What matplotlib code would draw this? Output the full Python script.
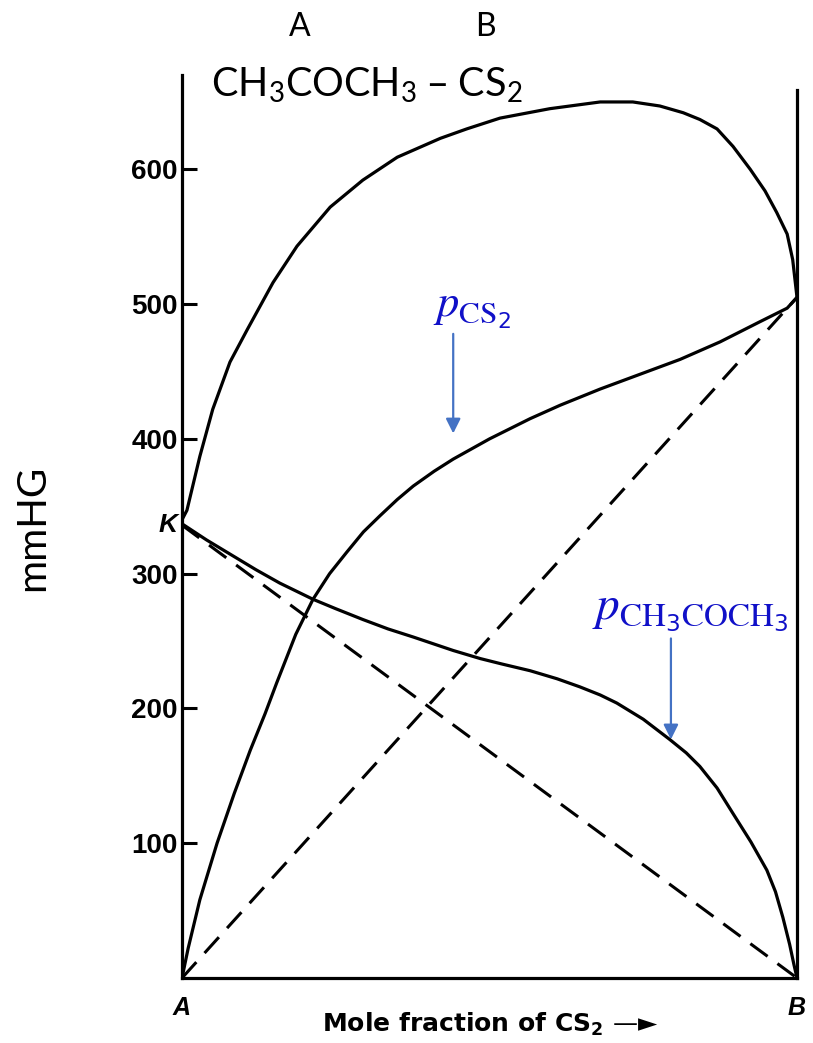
import numpy as np
import matplotlib.pyplot as plt

plt.rcParams['mathtext.default'] = 'regular'

# x = mole fraction of CS2, y = pressure (mmHg)
x_total = [0.0, 0.008, 0.029, 0.050, 0.078, 0.106, 0.148, 0.187, 0.241, 0.294, 0.350, 0.420,
           0.463, 0.517, 0.598, 0.680, 0.733, 0.777, 0.815, 0.842, 0.870, 0.896, 0.924, 0.948,
           0.967, 0.984, 0.993, 1.0]
p_total = [340, 347, 387, 422, 457, 481, 516, 543, 572, 592, 609, 623,
           630, 638, 645, 650, 650, 647, 642, 637, 630, 617, 600, 584,
           568, 552, 533, 505]

x_cs2 = [0.0, 0.010, 0.029, 0.057, 0.085, 0.111, 0.135, 0.154, 0.185, 0.213, 0.240, 0.268,
         0.295, 0.322, 0.350, 0.376, 0.410, 0.441, 0.500, 0.566, 0.615, 0.680, 0.745, 0.810,
         0.875, 0.940, 0.984, 1.0]
p_cs2 = [0, 22, 58, 100, 137, 169, 196, 219, 255, 281, 300, 316,
         331, 343, 355, 365, 376, 385, 400, 415, 425, 437, 448, 459,
         472, 487, 497, 505]

x_ac = [0.0, 0.04, 0.08, 0.12, 0.159, 0.213, 0.25, 0.294, 0.335, 0.376, 0.441, 0.485,
        0.52, 0.566, 0.61, 0.647, 0.68, 0.707, 0.75, 0.793, 0.82, 0.842, 0.87, 0.896,
        0.925, 0.951, 0.965, 0.977, 0.988, 0.995, 1.0]
p_ac = [337, 325, 314, 303, 293, 281, 274, 266, 259, 253, 243, 237,
        233, 228, 222, 216, 210, 204, 192, 177, 167, 157, 141, 122,
        101, 80, 64, 45, 25, 10, 0]

p_A = 336   # pure acetone, point K
p_B = 505   # pure CS2

yticks = [100, 200, 300, 400, 500, 600]

fig = plt.figure(figsize=(8.13, 10.43), dpi=100)
ax = fig.add_axes([182/813, 65/1043, 615/813, 903/1043])

ax.plot(x_total, p_total, color='black', lw=2.3)
ax.plot(x_cs2, p_cs2, color='black', lw=2.3)
ax.plot(x_ac, p_ac, color='black', lw=2.3)
ax.plot([0, 1], [0, p_B], color='black', lw=2.2, dashes=[7, 4])
ax.plot([0, 1], [p_A, 0], color='black', lw=2.2, dashes=[7, 4])
# right hand axis line
ax.plot([1, 1], [0, 659], color='black', lw=2.3, clip_on=False)

ax.set_xlim(0, 1)
ax.set_ylim(0, 670)
ax.spines['top'].set_visible(False)
ax.spines['right'].set_visible(False)
ax.spines['left'].set_linewidth(2.3)
ax.spines['bottom'].set_linewidth(2.3)

ax.set_yticks(yticks)
ax.set_yticklabels([str(v) for v in yticks], family='Liberation Sans', weight='bold', fontsize=20)
ax.tick_params(axis='y', direction='in', length=11, width=2.2, pad=3)
ax.set_xticks([0, 1])
ax.set_xticklabels(['A', 'B'], family='Liberation Sans', weight='bold', style='italic', fontsize=18)
ax.tick_params(axis='x', length=0, pad=13)
ax.text(-0.008, p_A, 'K', ha='right', va='center', family='Liberation Sans',
        weight='bold', style='italic', fontsize=19)

ax.set_xlabel('Mole fraction of CS$_2$ \u2014\u25ba', family='DejaVu Sans', weight='bold',
              fontsize=18)
ax.xaxis.set_label_coords(0.502, -0.036)
fig.text(33/813, 1 - 528/1043, 'mmHG', rotation=90, ha='center', va='center',
         family='Lato', fontsize=29)

# title
fig.text(300/813, 1 - 27/1043, 'A', ha='center', va='center', family='Lato', fontsize=23)
fig.text(485/813, 1 - 27/1043, 'B', ha='center', va='center', family='Lato', fontsize=23)
fig.text(367/813, 1 - 85/1043, 'CH$_3$COCH$_3$ \u2013 CS$_2$', ha='center', va='center',
         family='Lato', fontsize=28.5)

# blue labels with arrows
blue = '#1010c8'
ax.annotate('', xy=(0.441, 402), xytext=(0.441, 480),
            arrowprops=dict(arrowstyle='-|>', color='#4472c4', lw=1.6, mutation_scale=22))
ax.text(0.4715, 496, r'$\mathit{p}_{\mathrm{CS}_2}$', color=blue, ha='center', va='center',
        fontsize=32, math_fontfamily='stix')
ax.annotate('', xy=(0.795, 175), xytext=(0.795, 254),
            arrowprops=dict(arrowstyle='-|>', color='#4472c4', lw=1.6, mutation_scale=22))
ax.text(0.826, 272, r'$\mathit{p}_{\mathrm{CH}_3\mathrm{COCH}_3}$', color=blue, ha='center', va='center',
        fontsize=34, math_fontfamily='stix')

plt.savefig('out.png', dpi=100)
